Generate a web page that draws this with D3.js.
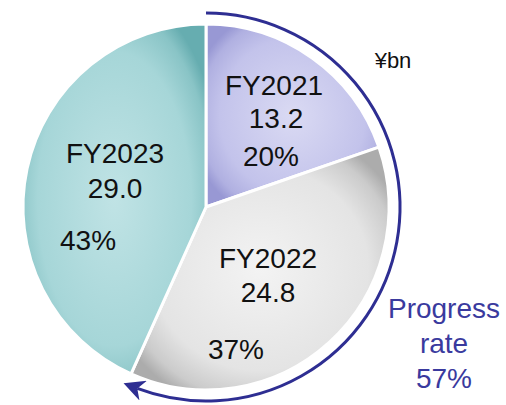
<!DOCTYPE html>
<head>
  <meta charset="utf-8">
  <script src="https://d3js.org/d3.v7.min.js"></script>
  <style>
    body { margin:0; background:#fff; }
    text { font-family: "Liberation Sans", Arial, sans-serif; }
  </style>
</head>
<body>
<script>
  // data
  var years = ["FY2021", "FY2022", "FY2023"];
  var values = [13.2, 24.8, 29.0];
  var shares = ["20%", "37%", "43%"];
  var progressLabel = ["Progress", "rate", "57%"];
  var unitLabel = "¥bn";

  var width = 506, height = 405;
  var cx = 206, cy = 207, radius = 183;

  // fill colours per slice: [centre, middle, edge]
  var fills = [["#dadaf3", "#c3c3eb", "#9898d4"],
               ["#f3f3f3", "#e4e4e4", "#acacac"],
               ["#c0e3e5", "#a6d6d8", "#66adb0"]];

  var svg = d3.select("body").append("svg")
      .attr("width", width)
      .attr("height", height);

  var defs = svg.append("defs");
  fills.forEach(function(f, i) {
    var g = defs.append("radialGradient").attr("id", "grad" + i)
        .attr("cx", "50%").attr("cy", "50%").attr("r", "60%");
    g.append("stop").attr("offset", "0%").attr("stop-color", f[0]);
    g.append("stop").attr("offset", "70%").attr("stop-color", f[1]);
    g.append("stop").attr("offset", "90%").attr("stop-color", d3.interpolateRgb(f[1], f[2])(0.45));
    g.append("stop").attr("offset", "100%").attr("stop-color", f[2]);
  });

  var marker = defs.append("marker")
      .attr("id", "arrowhead")
      .attr("viewBox", "0 0 10 10")
      .attr("refX", 3).attr("refY", 5)
      .attr("markerWidth", 8).attr("markerHeight", 7)
      .attr("markerUnits", "strokeWidth")
      .attr("orient", "auto");
  marker.append("path").attr("d", "M0,0 L10,5 L0,10 L3,5 z").attr("fill", "#2e2e92");

  var pie = d3.pie().sort(null).value(function(d) { return d; });
  var arcs = pie(values);
  var arc = d3.arc().innerRadius(0).outerRadius(radius);

  var g = svg.append("g").attr("transform", "translate(" + cx + "," + cy + ")");

  g.selectAll("path.slice").data(arcs).enter().append("path")
      .attr("class", "slice")
      .attr("d", arc)
      .attr("fill", function(d, i) { return "url(#grad" + i + ")"; })
      .attr("stroke", "#fff")
      .attr("stroke-width", 3)
      .attr("stroke-linejoin", "round");

  // progress arrow: covers FY2021 + FY2022
  var total = d3.sum(values);
  var endAngle = (values[0] + values[1]) / total * 2 * Math.PI;
  var arrowR = 194;
  var p = d3.path();
  p.arc(0, 0, arrowR, -Math.PI / 2, -Math.PI / 2 + endAngle - 0.06);
  g.append("path")
      .attr("d", p.toString())
      .attr("fill", "none")
      .attr("stroke", "#2e2e92")
      .attr("stroke-width", 3)
      .attr("marker-end", "url(#arrowhead)");

  // label offsets from pie centre (layout, not data)
  var nameOff = [[68, -112], [62, 61], [-91, -44]];
  var valOff  = [[70, -79], [62, 95], [-91, -9]];
  var pctOff  = [[65, -41], [30, 152], [-118, 43]];

  var labels = g.selectAll("g.lab").data(arcs).enter().append("g").attr("class", "lab");
  labels.append("text")
      .attr("x", function(d, i) { return nameOff[i][0]; })
      .attr("y", function(d, i) { return nameOff[i][1]; })
      .text(function(d, i) { return years[i]; });
  labels.append("text")
      .attr("x", function(d, i) { return valOff[i][0]; })
      .attr("y", function(d, i) { return valOff[i][1]; })
      .text(function(d) { return d.data.toFixed(1); });
  labels.append("text")
      .attr("x", function(d, i) { return pctOff[i][0]; })
      .attr("y", function(d, i) { return pctOff[i][1]; })
      .text(function(d, i) { return shares[i]; });
  labels.selectAll("text")
      .attr("text-anchor", "middle")
      .attr("font-size", 28)
      .attr("fill", "#111");

  svg.append("text")
      .attr("x", 393).attr("y", 68)
      .attr("text-anchor", "middle")
      .attr("font-size", 22)
      .attr("fill", "#111")
      .text(unitLabel);

  svg.selectAll("text.prog").data(progressLabel).enter().append("text")
      .attr("class", "prog")
      .attr("x", 444)
      .attr("y", function(d, i) { return 318 + i * 35; })
      .attr("text-anchor", "middle")
      .attr("font-size", 28)
      .attr("fill", "#3a3a9e")
      .text(function(d) { return d; });
</script>
</body>
